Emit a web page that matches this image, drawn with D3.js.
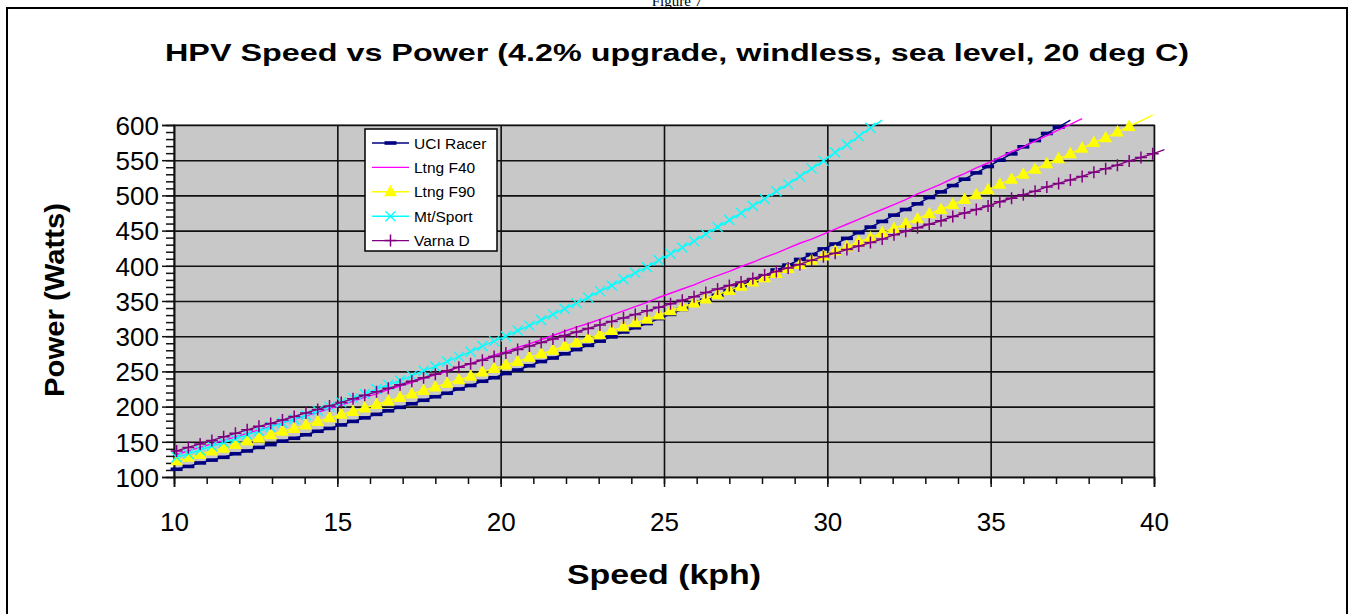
<!DOCTYPE html>
<html>
<head>
<meta charset="utf-8">
<script src="https://d3js.org/d3.v7.min.js"></script>
<style>
  body { margin: 0; background: #fff; }
  svg { display: block; font-family: "Liberation Sans", Arial, sans-serif; }
</style>
</head>
<body>
<script>
//Speeds are 0.1 m/s steps, written in kph
var speeds = [10.08, 10.44, 10.8, 11.16, 11.52, 11.88, 12.24, 12.6, 12.96, 13.32,
  13.68, 14.04, 14.4, 14.76, 15.12, 15.48, 15.84, 16.2, 16.56, 16.92,
  17.28, 17.64, 18, 18.36, 18.72, 19.08, 19.44, 19.8, 20.16, 20.52,
  20.88, 21.24, 21.6, 21.96, 22.32, 22.68, 23.04, 23.4, 23.76, 24.12,
  24.48, 24.84, 25.2, 25.56, 25.92, 26.28, 26.64, 27, 27.36, 27.72,
  28.08, 28.44, 28.8, 29.16, 29.52, 29.88, 30.24, 30.6, 30.96, 31.32,
  31.68, 32.04, 32.4, 32.76, 33.12, 33.48, 33.84, 34.2, 34.56, 34.92,
  35.28, 35.64, 36, 36.36, 36.72, 37.08, 37.44, 37.8, 38.16, 38.52,
  38.88, 39.24, 39.6, 39.96, 40.32];

//Power (Watts)
var uciRacer = [111, 115, 120, 124, 128, 133, 137, 142, 146, 151,
  155, 160, 165, 169, 174, 179, 184, 189, 194, 199,
  204, 209, 214, 219, 225, 230, 236, 241, 247, 252,
  258, 264, 269, 275, 281, 287, 293, 299, 306, 312,
  318, 325, 331, 338, 345, 351, 358, 365, 372, 379,
  386, 394, 401, 409, 416, 424, 431, 439, 447, 455,
  463, 472, 480, 488, 497, 505, 514, 523, 532, 541,
  550, 559, 569, 578, 588, 597, 607];

var ltngF40 = [132, 137, 142, 147, 152, 157, 162, 167, 172, 177,
  182, 187, 192, 197, 202, 208, 213, 218, 224, 229,
  234, 240, 245, 250, 256, 261, 267, 273, 278, 284,
  289, 295, 301, 307, 313, 318, 324, 330, 336, 342,
  348, 355, 361, 367, 373, 380, 386, 392, 399, 405,
  412, 418, 425, 432, 438, 445, 452, 459, 466, 473,
  480, 487, 494, 502, 509, 516, 524, 531, 539, 546,
  554, 562, 569, 577, 585, 593, 601, 609];

var ltngF90 = [123, 128, 132, 137, 141, 146, 151, 155, 160, 165,
  169, 174, 179, 184, 189, 193, 198, 203, 208, 213,
  218, 223, 228, 233, 238, 243, 249, 254, 259, 264,
  270, 275, 280, 286, 291, 297, 302, 308, 313, 319,
  324, 330, 336, 342, 347, 353, 359, 365, 371, 377,
  383, 389, 396, 402, 408, 414, 421, 427, 434, 440,
  447, 453, 460, 467, 474, 480, 487, 494, 501, 508,
  516, 523, 530, 537, 545, 552, 559, 567, 575, 582,
  590, 598, 606, 614];

var mtSport = [128, 133, 138, 144, 149, 154, 160, 165, 171, 177,
  182, 188, 194, 200, 206, 212, 218, 225, 231, 237,
  244, 251, 257, 264, 271, 278, 286, 293, 300, 308,
  315, 323, 331, 339, 347, 355, 364, 372, 381, 390,
  398, 408, 417, 426, 435, 445, 455, 465, 475, 485,
  495, 506, 516, 527, 538, 549, 561, 572, 584, 596,
  607];

var varnaD = [137, 142, 147, 152, 157, 162, 167, 172, 176, 181,
  186, 191, 196, 201, 206, 211, 216, 221, 226, 231,
  236, 241, 246, 251, 256, 261, 266, 271, 276, 281,
  286, 291, 296, 301, 306, 311, 316, 321, 326, 331,
  336, 341, 346, 351, 356, 362, 367, 372, 377, 382,
  387, 392, 397, 402, 408, 413, 418, 423, 428, 433,
  438, 444, 449, 454, 459, 464, 470, 475, 480, 485,
  491, 496, 501, 506, 512, 517, 522, 527, 533, 538,
  543, 549, 554, 559, 565];

var seriesNames = ["UCI Racer", "Ltng F40", "Ltng F90", "Mt/Sport", "Varna D"];
var xTicks = [10, 15, 20, 25, 30, 35, 40];
var yTicks = [100, 150, 200, 250, 300, 350, 400, 450, 500, 550, 600];

var margin = {left: 174, right: 199, top: 125, bottom: 137},
    width = 1353 - margin.left - margin.right,
    height = 614 - margin.top - margin.bottom;

var series = [
  {name: seriesNames[0], values: uciRacer, color: "#000080", marker: "dash"},
  {name: seriesNames[1], values: ltngF40, color: "#ff00ff", marker: "none"},
  {name: seriesNames[2], values: ltngF90, color: "#ffff00", marker: "triangle"},
  {name: seriesNames[3], values: mtSport, color: "#00ffff", marker: "x"},
  {name: seriesNames[4], values: varnaD, color: "#800080", marker: "plus"}
];

var root = d3.select("body")
    .append("svg")
    .attr("width", 1353)
    .attr("height", 614);

//Page caption (cut by the page top in the original) and the chart frame
root.append("text")
    .attr("x", 677)
    .attr("y", 6)
    .style("text-anchor", "middle")
    .style("font-family", "'Liberation Serif', 'Times New Roman', serif")
    .attr("font-size", "15px")
    .text("Figure 7");

root.append("rect")
    .attr("x", 7)
    .attr("y", 8)
    .attr("width", 1340)
    .attr("height", 620)
    .style("fill", "none")
    .style("stroke", "#000")
    .style("stroke-width", "2px");

root.append("text")
    .attr("x", 677)
    .attr("y", 61)
    .style("text-anchor", "middle")
    .attr("font-size", "24px")
    .attr("font-weight", "bold")
    .attr("textLength", 1024)
    .attr("lengthAdjust", "spacingAndGlyphs")
    .text("HPV Speed vs Power (4.2% upgrade, windless, sea level, 20 deg C)");

var svg = root.append("g")
    .attr("transform", "translate(" + margin.left + "," + margin.top + ")");

var xScale = d3.scaleLinear()
    .domain([10, 40])
    .range([0, width]);

var yScale = d3.scaleLinear()
    .domain([100, 600])
    .range([height, 0]);

//Plot background
svg.append("rect")
    .attr("width", width)
    .attr("height", height)
    .style("fill", "#c8c8c8")
    .style("stroke", "#9a9a9a")
    .style("stroke-width", "2px");

//Grid lines
var xGrid = d3.axisBottom(xScale).tickValues(xTicks).tickSize(-height).tickFormat("");
var yGrid = d3.axisLeft(yScale).tickValues(yTicks).tickSize(-width).tickFormat("");

svg.append("g")
    .attr("class", "grid")
    .attr("transform", "translate(0," + height + ")")
    .call(xGrid);

svg.append("g")
    .attr("class", "grid")
    .call(yGrid);

svg.selectAll(".grid line").style("stroke", "#111").style("stroke-width", "1.6px");
svg.selectAll(".grid path").remove();

//Minor ticks
var xMinor = d3.axisBottom(xScale).ticks(30).tickSize(7).tickFormat("");
var yMinor = d3.axisLeft(yScale).ticks(50).tickSize(8).tickFormat("");

svg.append("g")
    .attr("class", "minor")
    .attr("transform", "translate(0," + height + ")")
    .call(xMinor);

svg.append("g")
    .attr("class", "minor")
    .call(yMinor);

//Major ticks with labels
var xAxis = d3.axisBottom(xScale).tickValues(xTicks).tickSize(10).tickPadding(26);
var yAxis = d3.axisLeft(yScale).tickValues(yTicks).tickSize(12).tickPadding(3);

svg.append("g")
    .attr("class", "x axis")
    .attr("transform", "translate(0," + height + ")")
    .call(xAxis);

svg.append("g")
    .attr("class", "y axis")
    .call(yAxis);

svg.selectAll(".minor path").remove();
svg.selectAll(".minor line, .axis line").style("stroke", "#111").style("stroke-width", "1.5px");
svg.selectAll(".axis path").style("stroke", "#111").style("stroke-width", "1.6px");
svg.selectAll(".axis text")
    .style("font-family", "'Liberation Sans', Arial, sans-serif")
    .attr("font-size", "26px")
    .style("fill", "#000");
svg.selectAll(".y.axis text").attr("dy", "0.36em");

//Axis labels
svg.append("text")
    .attr("class", "label")
    .attr("x", width / 2)
    .attr("y", height + 107)
    .style("text-anchor", "middle")
    .attr("font-size", "27px")
    .attr("font-weight", "bold")
    .attr("textLength", 194)
    .attr("lengthAdjust", "spacingAndGlyphs")
    .text("Speed (kph)");

svg.append("text")
    .attr("class", "label")
    .attr("transform", "rotate(-90)")
    .attr("x", -height / 2 + 1)
    .attr("y", -110)
    .style("text-anchor", "middle")
    .attr("font-size", "28px")
    .attr("font-weight", "bold")
    .attr("textLength", 194)
    .attr("lengthAdjust", "spacingAndGlyphs")
    .text("Power (Watts)");

//Marker shapes
function drawMarker(g, type, color) {
    if (type == "dash") {
        g.append("rect").attr("x", -6).attr("y", -1.8).attr("width", 12).attr("height", 3.6)
            .style("fill", color);
    } else if (type == "triangle") {
        g.append("path").attr("d", "M0,-7L6.5,4.5L-6.5,4.5Z").style("fill", color);
    } else if (type == "x") {
        g.append("path").attr("d", "M-5,-5L5,5M-5,5L5,-5")
            .style("stroke", color).style("stroke-width", "1.3px").style("fill", "none");
    } else if (type == "plus") {
        g.append("path").attr("d", "M-6,0L6,0M0,-6L0,6")
            .style("stroke", color).style("stroke-width", "1.5px").style("fill", "none");
    }
}

var line = d3.line()
    .x(function(d) { return xScale(d.x); })
    .y(function(d) { return yScale(d.y); });

series.forEach(function(s) {
    var pts = s.values.map(function(v, i) { return {x: speeds[i], y: v}; });

    svg.append("path")
        .datum(pts)
        .attr("d", line)
        .style("fill", "none")
        .style("stroke", s.color)
        .style("stroke-width", "1.4px");

    //markers outside the plot area are hidden
    if (s.marker != "none") {
        svg.selectAll(".m" + s.marker)
            .data(pts.filter(function(d) { return d.x <= 40 && d.y <= 600; }))
            .enter()
            .append("g")
            .attr("class", "m" + s.marker)
            .attr("transform", function(d) { return "translate(" + xScale(d.x) + "," + yScale(d.y) + ")"; })
            .each(function() { drawMarker(d3.select(this), s.marker, s.color); });
    }
});

//Legend
var legend = svg.append("g")
    .attr("transform", "translate(" + 191 + "," + 4 + ")");

legend.append("rect")
    .attr("width", 132)
    .attr("height", 122)
    .style("fill", "#fff")
    .style("stroke", "#000")
    .style("stroke-width", "1.5px");

series.forEach(function(s, i) {
    var row = legend.append("g")
        .attr("transform", "translate(0," + (14 + i * 24.4) + ")");
    row.append("line")
        .attr("x1", 7).attr("x2", 44)
        .style("stroke", s.color)
        .style("stroke-width", "1.4px");
    var mk = row.append("g").attr("transform", "translate(25.5,0)");
    drawMarker(mk, s.marker, s.color);
    row.append("text")
        .attr("x", 49)
        .attr("y", 5.5)
        .attr("font-size", "15.5px")
        .text(s.name);
});
</script>
</body>
</html>
